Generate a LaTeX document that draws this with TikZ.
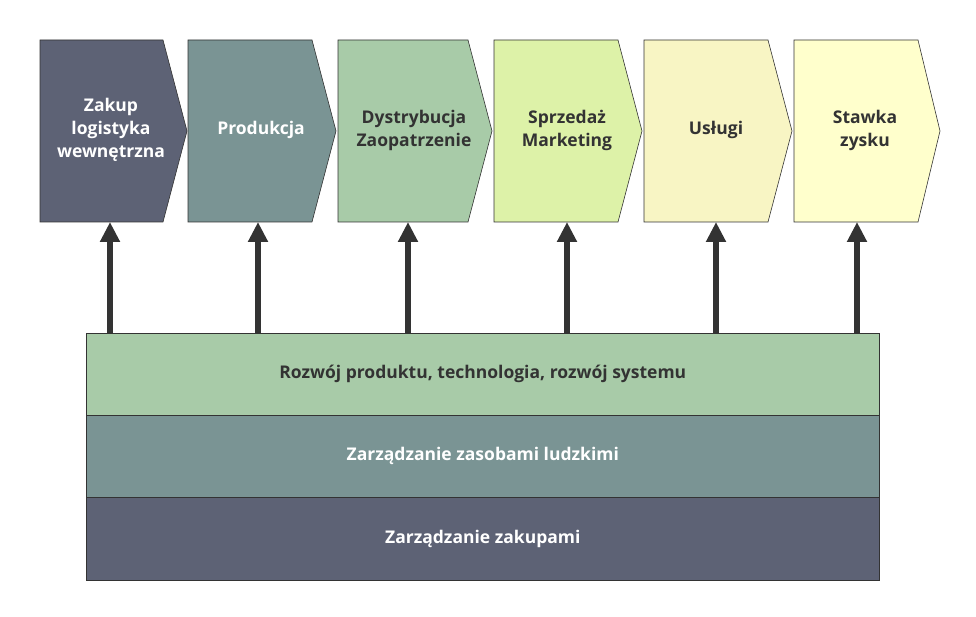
\documentclass[tikz,border=0pt]{standalone}
\usepackage{fontspec}
\setmainfont{Open Sans}[BoldFont={Open Sans Bold}]
\usetikzlibrary{arrows.meta}
\definecolor{c1}{HTML}{5D6275}
\definecolor{c2}{HTML}{7A9494}
\definecolor{c3}{HTML}{A8CBA8}
\definecolor{c4}{HTML}{DDF2A8}
\definecolor{c5}{HTML}{F8F5C4}
\definecolor{c6}{HTML}{FFFFCC}
\definecolor{tx}{HTML}{333333}
\begin{document}
\begin{tikzpicture}[x=1pt,y=-1pt,
 lbl/.style={font=\fontsize{17.5}{23}\selectfont\bfseries,align=center},
 up/.style={draw=tx,line width=5.5pt,-{Triangle[length=20pt,width=19pt]}},
 shp/.style={draw=black!80,line width=0.6pt}]
\useasboundingbox (0,0) rectangle (976,617);
\fill[c1] (40,40)--(163,40)--(187,131)--(163,222)--(40,222)--cycle;
\draw[shp] (40,40)--(163,40)--(187,131)--(163,222)--(40,222)--cycle;
\fill[c2] (188,40)--(312,40)--(336,131)--(312,222)--(188,222)--cycle;
\draw[shp] (188,40)--(312,40)--(336,131)--(312,222)--(188,222)--cycle;
\fill[c3] (338,40)--(468,40)--(492,131)--(468,222)--(338,222)--cycle;
\draw[shp] (338,40)--(468,40)--(492,131)--(468,222)--(338,222)--cycle;
\fill[c4] (494,40)--(618,40)--(642,131)--(618,222)--(494,222)--cycle;
\draw[shp] (494,40)--(618,40)--(642,131)--(618,222)--(494,222)--cycle;
\fill[c5] (644,40)--(768,40)--(792,131)--(768,222)--(644,222)--cycle;
\draw[shp] (644,40)--(768,40)--(792,131)--(768,222)--(644,222)--cycle;
\fill[c6] (794,40)--(918,40)--(940,131)--(918,222)--(794,222)--cycle;
\draw[shp] (794,40)--(918,40)--(940,131)--(918,222)--(794,222)--cycle;
\node[lbl,text=white] (p1) at (111,130) {Zakup\\logistyka\\wewnętrzna};
\node[lbl,text=white] (p2) at (261,130) {Produkcja};
\node[lbl,text=tx] (p3) at (414,130) {Dystrybucja\\Zaopatrzenie};
\node[lbl,text=tx] (p4) at (567,130) {Sprzedaż\\Marketing};
\node[lbl,text=tx] (p5) at (716,130) {Usługi};
\node[lbl,text=tx] (p6) at (865,130) {Stawka\\zysku};
\coordinate (t1) at (110,222);\coordinate (t2) at (258,222);\coordinate (t3) at (408,222);
\coordinate (t4) at (567,222);\coordinate (t5) at (716,222);\coordinate (t6) at (857,222);
\node[shp,fill=c3,minimum width=793pt,minimum height=82pt,inner sep=0,lbl,text=tx,anchor=north west] (b1) at (86,333) {Rozwój produktu, technologia, rozwój systemu};
\node[shp,fill=c2,minimum width=793pt,minimum height=82pt,inner sep=0,lbl,text=white,anchor=north west] (b2) at (86,415) {Zarządzanie zasobami ludzkimi};
\node[shp,fill=c1,minimum width=793pt,minimum height=83pt,inner sep=0,lbl,text=white,anchor=north west] (b3) at (86,497) {Zarządzanie zakupami};
\foreach \i in {1,...,6} \draw[up] (b1.north -| t\i) -- (t\i);
\end{tikzpicture}
\end{document}
